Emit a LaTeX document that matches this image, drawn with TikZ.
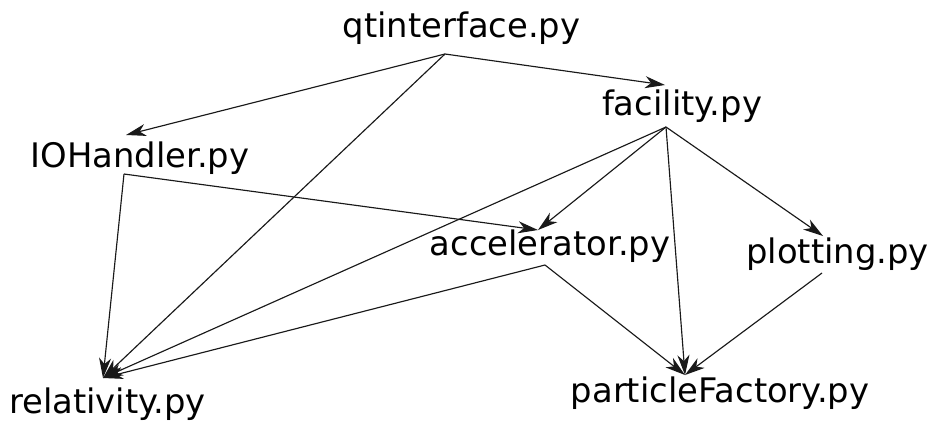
\documentclass[tikz,border=0pt]{standalone}
\usepackage{fontspec}
\setmainfont{DejaVu Sans}
\usetikzlibrary{arrows.meta}
\begin{document}
\begin{tikzpicture}[x=1pt,y=-1pt,
  modname/.style={inner sep=0pt,anchor=base,font=\fontsize{33.8}{38}\selectfont},
  dep/.style={-{Stealth[length=20pt,width=12pt,inset=6pt]},line width=1.15pt,black!90}]
\useasboundingbox (0,0) rectangle (933,421);
% modules
\node[modname] (qt)  at (461.5,37) {qtinterface.py};
\node[modname] (fac) at (682,115) {facility.py};
\node[modname] (ioh) at (140,167) {IOHandler.py};
\node[modname] (acc) at (550,255) {accelerator.py};
\node[modname] (plt) at (837.5,263) {plotting.py};
\node[modname] (pf)  at (720,402) {particleFactory.py};
\node[modname] (rel) at (107.5,413) {relativity.py};
% connection points
\coordinate (qt-out)  at (445,54);
\coordinate (ioh-in)  at (126,135);
\coordinate (ioh-out) at (124,174);
\coordinate (fac-in)  at (665,85);
\coordinate (fac-out) at (666,127);
\coordinate (acc-in)  at (538,230);
\coordinate (acc-out) at (545,265);
\coordinate (plt-in)  at (823,236);
\coordinate (plt-out) at (822,273);
\coordinate (pf-in)   at (685,375);
\coordinate (rel-in)  at (103,378);
% dependencies
\draw[dep] (qt-out) -- (ioh-in);
\draw[dep] (qt-out) -- (fac-in);
\draw[dep] (qt-out) -- (rel-in);
\draw[dep] (ioh-out) -- (acc-in);
\draw[dep] (ioh-out) -- (rel-in);
\draw[dep] (fac-out) -- (acc-in);
\draw[dep] (fac-out) -- (rel-in);
\draw[dep] (fac-out) -- (pf-in);
\draw[dep] (fac-out) -- (plt-in);
\draw[dep] (acc-out) -- (rel-in);
\draw[dep] (acc-out) -- (pf-in);
\draw[dep] (plt-out) -- (pf-in);
\end{tikzpicture}
\end{document}
